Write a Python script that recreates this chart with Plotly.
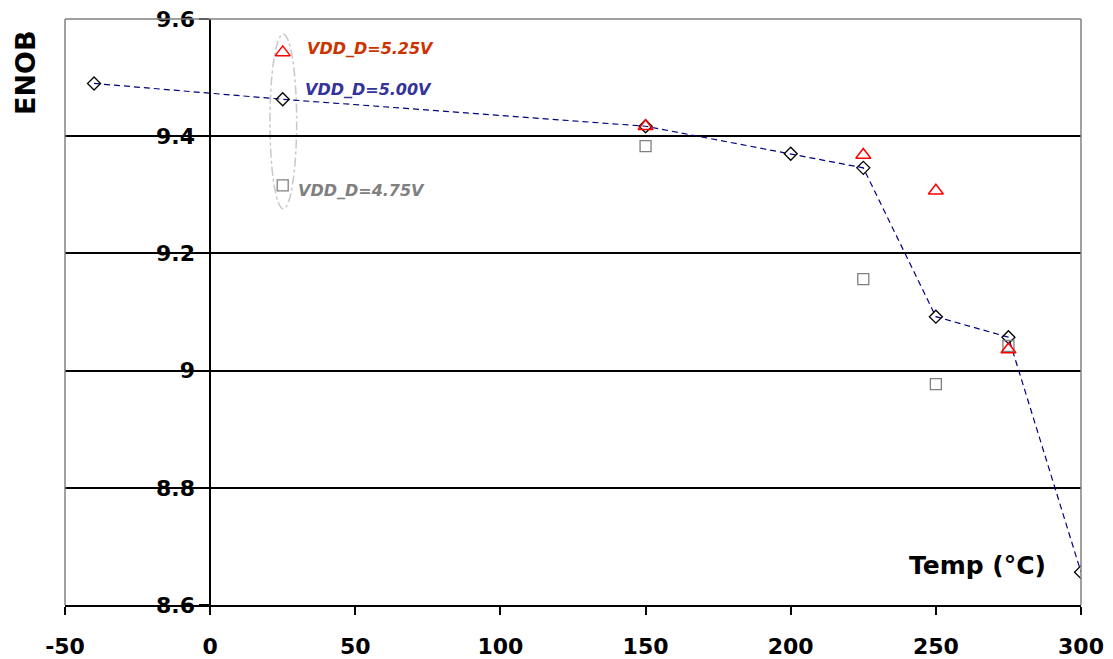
import plotly.graph_objects as go

# Data
temp_500 = [-40, 25, 150, 200, 225, 250, 275, 300]
enob_500 = [9.490, 9.463, 9.417, 9.370, 9.346, 9.092, 9.057, 8.656]

temp_525 = [25, 150, 225, 250, 275]
enob_525 = [9.543, 9.417, 9.368, 9.307, 9.036]

temp_475 = [25, 150, 225, 250, 275]
enob_475 = [9.316, 9.383, 9.156, 8.977, 9.042]

x_ticks = [-50, 0, 50, 100, 150, 200, 250, 300]
x_tick_text = ["-50", "0", "50", "100", "150", "200", "250", "300"]
y_ticks = [8.6, 8.8, 9.0, 9.2, 9.4, 9.6]
y_tick_text = ["8.6", "8.8", "9", "9.2", "9.4", "9.6"]

FONT = "DejaVu Sans, Arial, sans-serif"

fig = go.Figure()

fig.add_trace(go.Scatter(
    x=temp_500, y=enob_500, mode="lines+markers", name="VDD_D=5.00V",
    line=dict(color="#000080", width=1.2, dash="6px,4px"),
    marker=dict(symbol="diamond-open", size=10, color="black", line=dict(width=1.3)),
))
fig.add_trace(go.Scatter(
    x=temp_475, y=enob_475, mode="markers", name="VDD_D=4.75V",
    marker=dict(symbol="square-open", size=11, color="#808080", line=dict(width=1.3)),
))
fig.add_trace(go.Scatter(
    x=temp_525, y=enob_525, mode="markers", name="VDD_D=5.25V",
    marker=dict(symbol="triangle-up-open", size=13, color="#FF0000", line=dict(width=1.5)),
))

# page body has an 8px margin; compensate so the plot area lands at (65,19)-(1081,605)
fig.update_layout(
    width=1105, height=651,
    margin=dict(l=57, r=32, t=11, b=54, autoexpand=False),
    paper_bgcolor="white", plot_bgcolor="white",
    showlegend=False,
    font=dict(family=FONT, color="black"),
    xaxis=dict(
        range=[-50, 300], tickvals=x_ticks, ticktext=x_tick_text,
        showgrid=False, zeroline=False, automargin=False,
        showline=True, linecolor="black", linewidth=1.5,
        ticks="outside", ticklen=8, tickcolor="black", tickwidth=1.5,
        tickfont=dict(size=22, family=FONT, weight="bold"),
        ticklabelstandoff=13, ticklabeloverflow="allow",
    ),
    yaxis=dict(
        range=[8.6, 9.6], tickvals=y_ticks, ticktext=y_tick_text,
        showgrid=True, gridcolor="black", gridwidth=1.5,
        zeroline=False, anchor="free", position=50 / 350, automargin=False,
        showline=True, linecolor="black", linewidth=1.5,
        ticks="outside", ticklen=10, tickcolor="black", tickwidth=1.5,
        tickfont=dict(size=22, family=FONT, weight="bold"),
        ticklabeloverflow="allow",
    ),
)

# plot border (gray)
for x0, y0, x1, y1 in [(0, 0, 0, 1), (0, 1, 1, 1), (1, 0, 1, 1)]:
    fig.add_shape(type="line", xref="paper", yref="paper", x0=x0, y0=y0, x1=x1, y1=y1,
                  line=dict(color="#808080", width=1.5), layer="above")

# ellipse around 25 C points
fig.add_shape(type="circle", xref="x", yref="y", x0=20.6, x1=29.8, y0=9.276, y1=9.574,
              line=dict(color="#C8C8C8", width=1.5, dash="dashdot"), layer="below")

fig.add_annotation(x=32.7, y=9.5505, xref="x", yref="y", text="<b><i>VDD_D=5.25V</i></b>",
                   showarrow=False, xanchor="left", yanchor="middle",
                   font=dict(size=16, color="#CC3300", family=FONT))
fig.add_annotation(x=32.0, y=9.4805, xref="x", yref="y", text="<b><i>VDD_D=5.00V</i></b>",
                   showarrow=False, xanchor="left", yanchor="middle",
                   font=dict(size=16, color="#333399", family=FONT))
fig.add_annotation(x=29.6, y=9.308, xref="x", yref="y", text="<b><i>VDD_D=4.75V</i></b>",
                   showarrow=False, xanchor="left", yanchor="middle",
                   font=dict(size=16, color="#808080", family=FONT))

fig.add_annotation(x=288.6, y=8.668, xref="x", yref="y", text="<b>Temp (°C)</b>",
                   showarrow=False, xanchor="right", yanchor="middle",
                   font=dict(size=25, color="black", family=FONT))

fig.add_annotation(x=(25 - 65) / 1016, y=(605 - 73) / 586, xref="paper", yref="paper",
                   text="<b>ENOB</b>", showarrow=False, textangle=-90,
                   xanchor="center", yanchor="middle",
                   font=dict(size=27, color="black", family=FONT))

fig.write_html("out.html")
